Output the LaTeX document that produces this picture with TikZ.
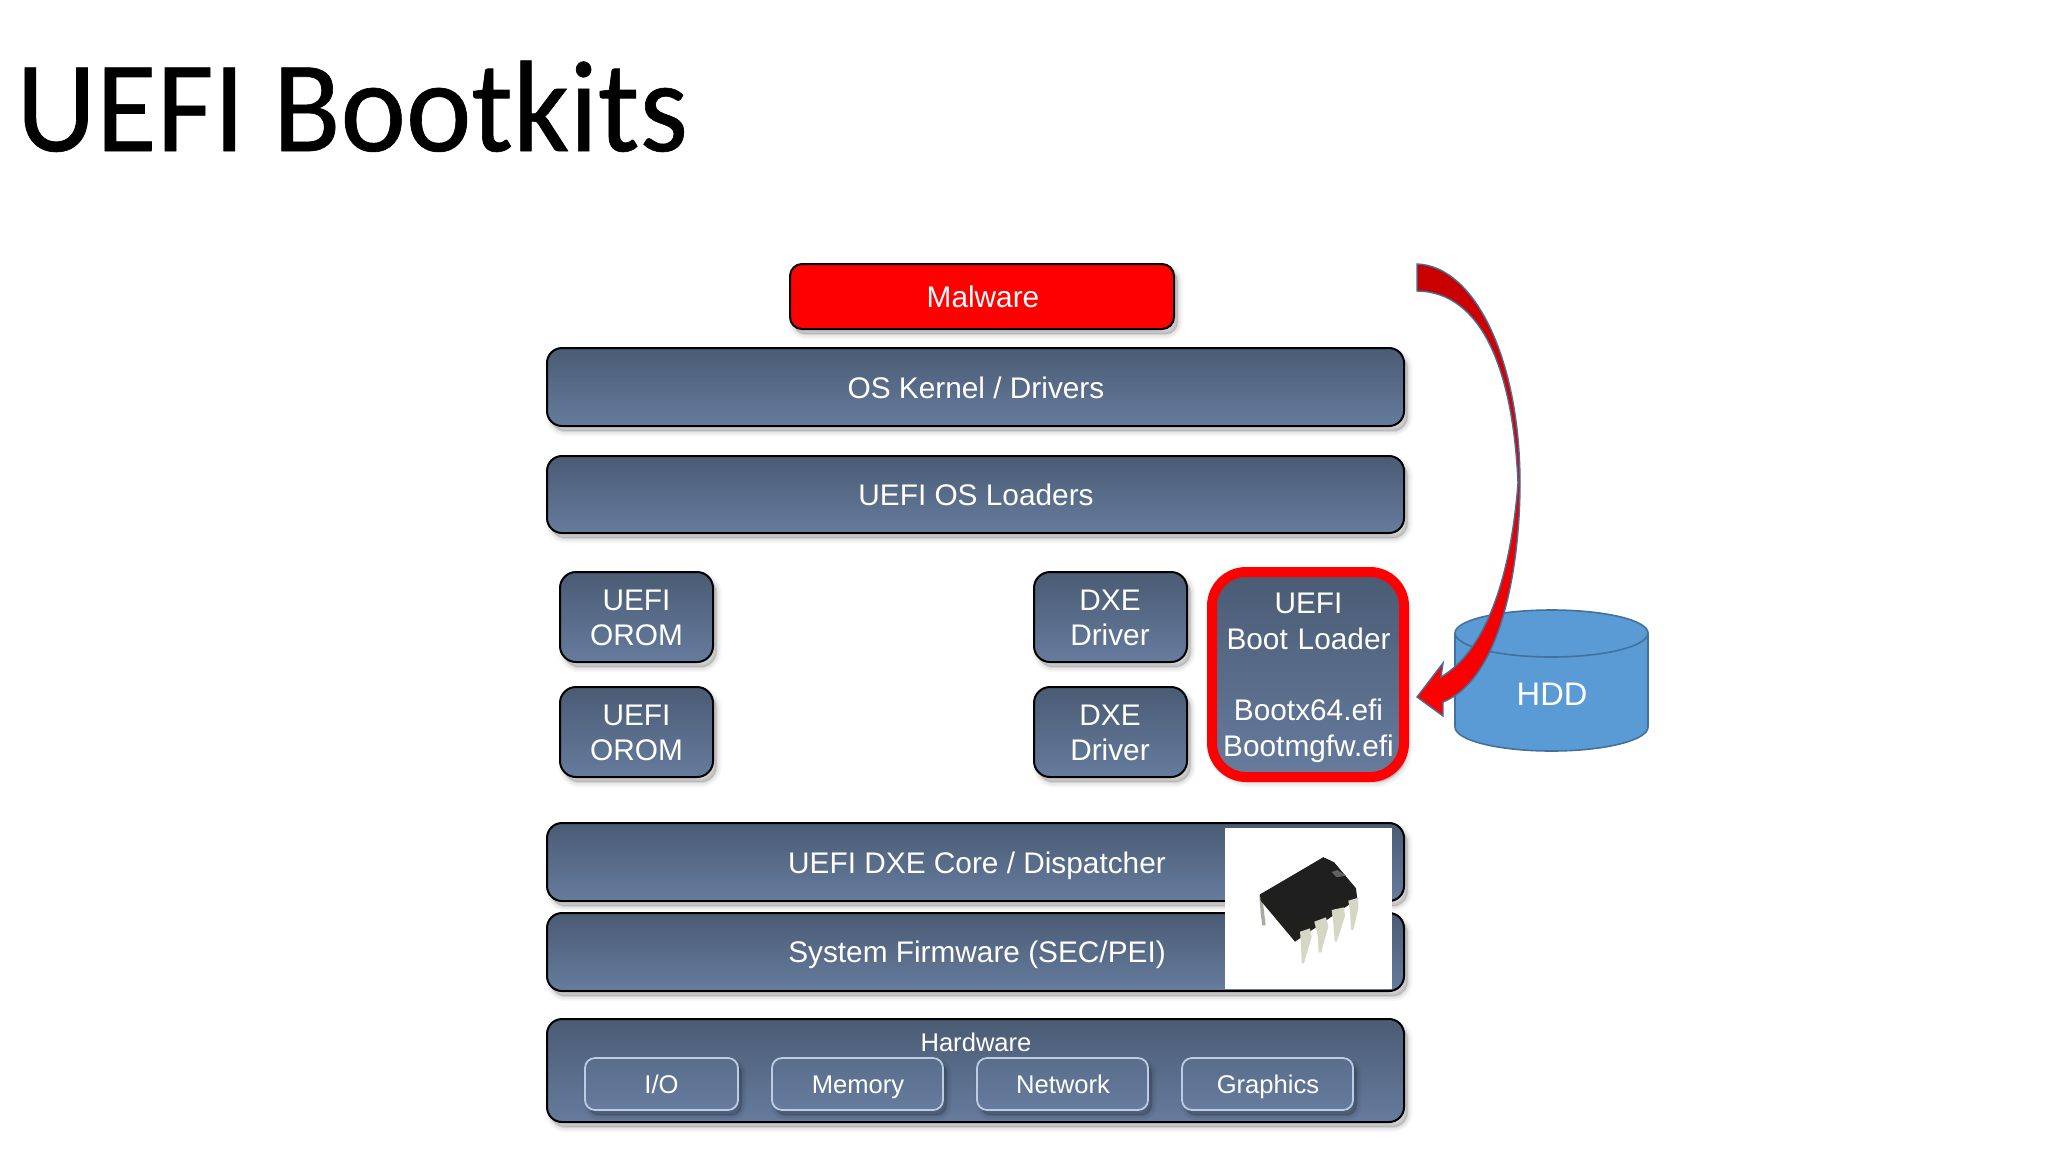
\documentclass[tikz,border=0pt]{standalone}
\usepackage{fontspec}
\setmainfont{Liberation Sans}
\newfontfamily\titlefont[FakeBold=0.5]{Carlito}
\definecolor{bartop}{HTML}{4A5B73}
\definecolor{barbot}{HTML}{667C9E}
\definecolor{hddfill}{HTML}{5B9BD5}
\definecolor{hddline}{HTML}{41719C}
\definecolor{subline}{HTML}{BCCCE4}
\definecolor{legcol}{HTML}{D6D6C4}
\tikzset{
 x=0.5pt,y=-0.5pt,
 softshadow/.style={
  preaction={draw=black,fill=black,opacity=.035,line width=5pt,transform canvas={shift={(1.8pt,-2.6pt)}}},
  preaction={draw=black,fill=black,opacity=.05,line width=3pt,transform canvas={shift={(1.8pt,-2.6pt)}}},
  preaction={draw=black,fill=black,opacity=.07,line width=1pt,transform canvas={shift={(1.8pt,-2.6pt)}}}},
 barbox/.style={rounded corners=7.5pt,draw=black,line width=1pt,top color=bartop,bottom color=barbot,softshadow},
 smallbox/.style={barbox,rounded corners=8pt},
 subbox/.style={rounded corners=5pt,draw=subline,line width=.9pt,top color=bartop!45!barbot,bottom color=barbot,softshadow},
 lab/.style={text=white,font=\fontsize{14.9}{17.6}\selectfont,align=center,inner sep=0pt},
 barlab/.style={lab,anchor=base},
 sublab/.style={text=white,font=\fontsize{12.8}{15}\selectfont,inner sep=0pt,anchor=base},
}
\begin{document}
\begin{tikzpicture}
\useasboundingbox (0,0) rectangle (2048,1152);
\fill[white] (0,0) rectangle (2048,1152);
\node[anchor=base west,inner sep=0pt,xscale=.955,transform shape,font=\titlefont\fontsize{65}{70}\selectfont] (title) at (16,151) {UEFI Bootkits};
\path[barbox,rounded corners=6pt,top color=red,bottom color=red] (790,264) rectangle (1174,329);
\node[barlab] (malware) at (983,307.5) {Malware};
\path[barbox] (547,348) rectangle (1404,426);
\node[barlab] (kernel) at (976,398.5) {OS Kernel / Drivers};
\path[barbox] (547,456) rectangle (1404,533);
\node[barlab] (loaders) at (976,505.5) {UEFI OS Loaders};
\path[smallbox] (560,572) rectangle (713,662);
\node[lab] (orom1) at (636.5,618) {UEFI\\OROM};
\path[smallbox] (560,687) rectangle (713,777);
\node[lab] (orom2) at (636.5,733) {UEFI\\OROM};
\path[smallbox] (1034,572) rectangle (1187,662);
\node[lab] (dxe1) at (1110,618) {DXE\\Driver};
\path[smallbox] (1034,687) rectangle (1187,777);
\node[lab] (dxe2) at (1110,733) {DXE\\Driver};
\path[rounded corners=17pt,draw=red,line width=5pt,top color=bartop,bottom color=barbot,softshadow] (1212,572) rectangle (1404,777);
\node[lab,text width=200pt,font=\fontsize{14.9}{17.9}\selectfont] (boot) at (1308.5,678) {UEFI\\Boot Loader\\[17.9pt]Bootx64.efi\\Bootmgfw.efi};
% HDD
\path[fill=hddfill,draw=hddline,line width=.8pt] (1455,633) -- (1455,727) arc[start angle=180,end angle=360,x radius=96.5,y radius=-24] -- (1648,633) arc[start angle=0,end angle=180,x radius=96.5,y radius=-23] -- cycle;
\draw[hddline,line width=.8pt] (1455,633) arc[start angle=180,end angle=360,x radius=96.5,y radius=-24];
\node[lab,font=\fontsize{16.3}{18}\selectfont] (hdd) at (1552,694) {HDD};
% arrow
\path[top color=red!78!black,middle color=red,bottom color=red,draw=hddline,line width=.7pt] (1417,264)
 .. controls (1475,266) and (1520,360) .. (1520,483)
 .. controls (1520,565) and (1502,678) .. (1443,702)
 -- (1443,716) -- (1417,697) -- (1443,663) -- (1441,677)
 .. controls (1483,652) and (1510,585) .. (1518,483)
 .. controls (1513,370) and (1482,292) .. (1417,291) -- cycle;
% lower bars
\path[barbox] (547,823) rectangle (1404,901);
\node[barlab] (dxecore) at (977,873) {UEFI DXE Core / Dispatcher};
\path[barbox] (547,913) rectangle (1404,991);
\node[barlab] (firmware) at (977,962) {System Firmware (SEC/PEI)};
\fill[white] (1225,828) rectangle (1392,989);
% chip picture
\begin{scope}[shift={(1220,830)},scale=.3333]
 \fill[legcol!80!black] (118,195) -- (126,195) -- (137,285) -- (127,287) -- (122,250) -- cycle;
 \fill[black!85!legcol] (120,195) -- (310,82) -- (342,97) -- (408,175) -- (412,207) -- (225,335) -- (122,212) -- cycle;
 \fill[black!88] (120,193) -- (310,82) -- (342,97) -- (408,177) -- (222,300) -- cycle;
 \fill[black!62] (335,126) -- (352,120) -- (378,137) -- (350,142) -- cycle;
 \fill[legcol] (240,305) -- (270,295) -- (275,320) -- (252,400) -- (245,400) -- (243,340) -- cycle;
 \fill[legcol] (283,275) -- (318,262) -- (325,290) -- (303,368) -- (296,368) -- (293,315) -- cycle;
 \fill[legcol] (335,240) -- (372,232) -- (375,258) -- (350,335) -- (344,335) -- (340,280) -- cycle;
 \fill[legcol] (385,212) -- (415,203) -- (415,235) -- (400,300) -- (393,300) -- (390,245) -- cycle;
\end{scope}
\path[barbox] (547,1019) rectangle (1404,1122);
\node[sublab] (hw) at (976,1051) {Hardware};
\path[subbox] (585,1058) rectangle (738,1110);
\node[sublab] (io) at (661.5,1093) {I/O};
\path[subbox] (772,1058) rectangle (943,1110);
\node[sublab] (mem) at (858,1093) {Memory};
\path[subbox] (977,1058) rectangle (1148,1110);
\node[sublab] (net) at (1063,1093) {Network};
\path[subbox] (1182,1058) rectangle (1353,1110);
\node[sublab] (gfx) at (1268,1093) {Graphics};
\end{tikzpicture}
\end{document}
